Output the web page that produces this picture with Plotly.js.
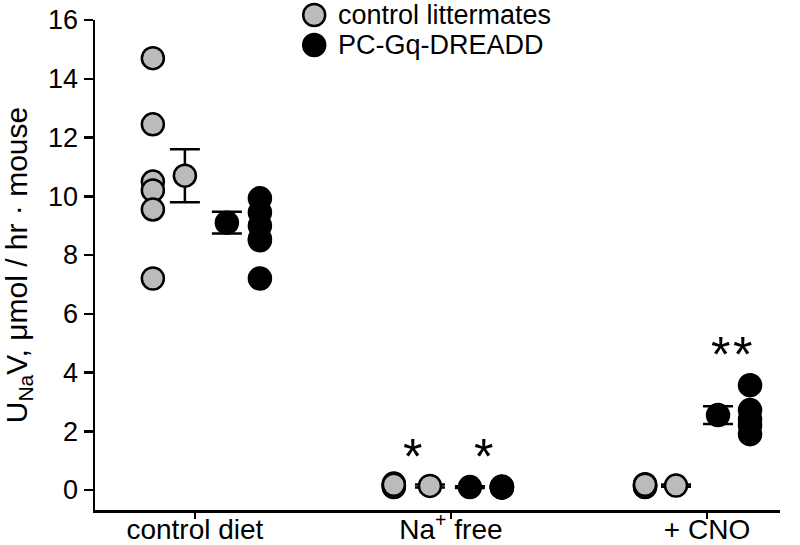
<!DOCTYPE html>
<html>
<head>
<meta charset="utf-8">
<script src="https://cdn.plot.ly/plotly-3.0.1.min.js"></script>
<style>body{margin:0;background:#fff}#chart{width:800px;height:545px}</style>
</head>
<body>
<div id="chart"></div>
<script>
// groups along the x axis
var groups = ['control diet', 'Na<sup>+</sup> free', '+ CNO'];
var seriesNames = ['control littermates', 'PC-Gq-DREADD'];

// individual animals
var ctrlPoints = [
  [14.7, 12.45, 10.5, 10.2, 9.55, 7.2],
  [0.22, 0.16, 0.12, 0.1, 0.18],
  [0.2, 0.16, 0.12, 0.1, 0.18]
];
var dreaddPoints = [
  [9.93, 9.45, 9.0, 8.55, 8.5, 7.2],
  [0.1, 0.08, 0.12, 0.09, 0.1],
  [3.57, 2.72, 2.4, 2.2, 1.9]
];

// group means and SEM
var ctrlMean = [10.7, 0.14, 0.15];
var ctrlSem = [0.9, 0.05, 0.04];
var dreaddMean = [9.1, 0.1, 2.55];
var dreaddSem = [0.37, 0.03, 0.3];

// horizontal placement inside each group (x units)
var ctrlPtOff = [-0.164, -0.223, -0.242];
var ctrlMeanOff = [-0.039, -0.082, -0.121];
var dreaddMeanOff = [0.125, 0.074, 0.043];
var dreaddPtOff = [0.254, 0.199, 0.168];

// significance marks
var starX = [1, 1, 2, 2];
var starOff = [-0.152, 0.129, 0.051, 0.137];
var starY = [1.45, 1.45, 4.95, 4.95];

var grey = '#bbbbbb';
var black = '#000000';

function pointTrace(points, offs, fill) {
  var xs = [], ys = [];
  points.forEach(function (arr, g) {
    arr.forEach(function (v) { xs.push(g + offs[g]); ys.push(v); });
  });
  return {
    type: 'scatter', mode: 'markers', x: xs, y: ys, showlegend: false,
    marker: {size: 22, color: fill, line: {color: black, width: 2.5}},
    hoverinfo: 'skip'
  };
}

function meanTrace(means, sems, offs, fill) {
  return {
    type: 'scatter', mode: 'markers', showlegend: false,
    x: means.map(function (m, g) { return g + offs[g]; }),
    y: means,
    marker: {size: 22, color: fill, line: {color: black, width: 2.5}},
    error_y: {type: 'data', array: sems, visible: true, color: black, thickness: 2.5, width: 15},
    hoverinfo: 'skip'
  };
}

var data = [
  meanTrace(ctrlMean, ctrlSem, ctrlMeanOff, grey),
  meanTrace(dreaddMean, dreaddSem, dreaddMeanOff, black),
  pointTrace(ctrlPoints, ctrlPtOff, grey),
  pointTrace(dreaddPoints, dreaddPtOff, black)
];

var fam = 'Liberation Sans, Arial, sans-serif';
var font = {family: fam, color: '#000', size: 27};

var annotations = starX.map(function (g, i) {
  return {x: g + starOff[i], y: starY[i], xref: 'x', yref: 'y', text: '*', showarrow: false,
    yanchor: 'middle', yshift: -10, font: {family: fam, size: 50, color: '#000'}};
});

// legend drawn as circles + text at the top
var legFills = [grey, black];
var shapes = [];
seriesNames.forEach(function (name, i) {
  var yPaper = 1.0102 - i * 0.0612;
  shapes.push({type: 'circle', xref: 'paper', yref: 'paper', xsizemode: 'pixel', ysizemode: 'pixel',
    xanchor: 0.320, yanchor: yPaper, x0: -11, x1: 11, y0: -11, y1: 11,
    fillcolor: legFills[i], line: {color: black, width: 2.5}});
  annotations.push({xref: 'paper', yref: 'paper', x: 0.352, y: yPaper, xanchor: 'left', yanchor: 'middle',
    text: name, showarrow: false, font: font});
});

var layout = {
  width: 800, height: 545,
  margin: {l: 95, r: 20, t: 20, b: 35},
  paper_bgcolor: '#fff', plot_bgcolor: '#fff',
  font: font,
  showlegend: false,
  xaxis: {
    range: [-0.39, 2.285], tickvals: [0, 1, 2], ticktext: groups,
    showgrid: false, zeroline: false, showline: true, linecolor: black, linewidth: 2.5,
    ticks: 'outside', ticklen: 6, tickwidth: 2.5, tickcolor: black,
    ticklabelstandoff: -13,
    tickfont: {family: fam, color: '#000', size: 28}
  },
  yaxis: {
    range: [-0.68, 16], tickvals: [0, 2, 4, 6, 8, 10, 12, 14, 16],
    showgrid: false, zeroline: false, showline: true, linecolor: black, linewidth: 2.5,
    ticks: 'outside', ticklen: 9, tickwidth: 2.5, tickcolor: black,
    tickfont: font,
    title: {text: 'U<sub>Na</sub>V, μmol / hr · mouse', font: {family: fam, size: 30, color: '#000'}, standoff: 20}
  },
  annotations: annotations,
  shapes: shapes
};

Plotly.newPlot('chart', data, layout, {displayModeBar: false, staticPlot: true});
</script>
</body>
</html>
